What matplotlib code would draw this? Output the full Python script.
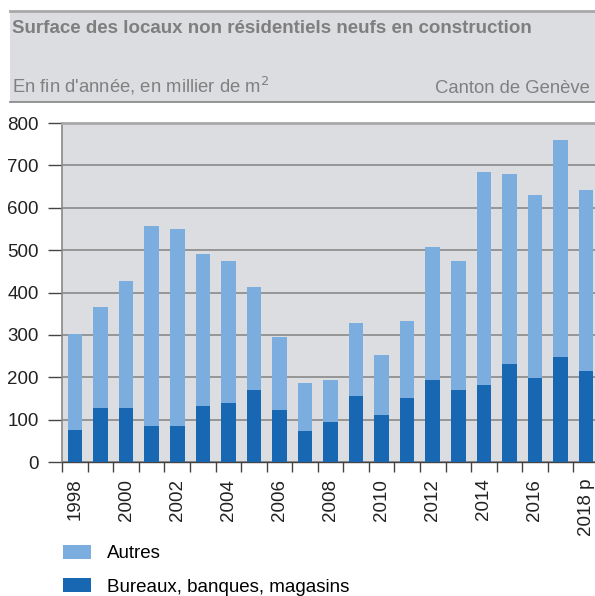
import numpy as np
import matplotlib.pyplot as plt
from matplotlib.patches import Rectangle
from matplotlib.lines import Line2D

plt.rcParams['font.family'] = ['Liberation Sans', 'DejaVu Sans']

# Data (thousand m2, end of year)
years = list(range(1998, 2019))
year_labels = ['1998', '2000', '2002', '2004', '2006', '2008',
               '2010', '2012', '2014', '2016', '2018 p']
bureaux = [75, 128, 128, 85, 85, 133, 139, 171, 123, 73, 95,
           155, 112, 150, 193, 171, 182, 231, 199, 247, 214]
total = [302, 366, 426, 556, 550, 490, 474, 414, 296, 187, 193,
         329, 252, 333, 507, 474, 685, 680, 630, 760, 641]
autres = [t - b for t, b in zip(total, bureaux)]

c_dark = '#1767b3'
c_light = '#7badde'
bg = '#dcdde0'

fig = plt.figure(figsize=(5.95, 5.96), dpi=100)

# header band
fig.patches.append(Rectangle((0.0168, 0.8294), 1.0, 0.1527, transform=fig.transFigure,
                             facecolor=bg, edgecolor='none', zorder=0))
fig.add_artist(Line2D([0.0168, 1.0], [0.982, 0.982], transform=fig.transFigure,
                      color='#a8a8a8', lw=2))
fig.add_artist(Line2D([0.0168, 1.0], [0.8294, 0.8294], transform=fig.transFigure,
                      color='#8c8c8c', lw=1.3))
fig.text(0.0202, 0.9446, 'Surface des locaux non résidentiels neufs en construction',
         fontsize=13.5, fontweight='bold', color='#7f7f7f', va='baseline', ha='left')
fig.text(0.0202, 0.8445, "En fin d'année, en millier de m$^2$",
         fontsize=13.3, color='#808080', va='baseline', ha='left')
fig.text(0.9915, 0.8445, 'Canton de Genève',
         fontsize=13.3, color='#808080', va='baseline', ha='right')

ax = fig.add_axes([0.1047, 0.2248, 0.8953, 0.5688])
ax.set_facecolor(bg)
x = np.arange(len(years))
b1 = ax.bar(x, bureaux, width=0.57, color=c_dark, label='Bureaux, banques, magasins', zorder=3)
b2 = ax.bar(x, autres, width=0.57, bottom=bureaux, color=c_light, label='Autres', zorder=3)

ax.set_xlim(-0.5, 20.35)
ax.set_ylim(0, 800)
ax.set_yticks(range(0, 801, 100))
ax.grid(axis='y', color='#8a8a8a', lw=1.2, zorder=1)
ax.set_axisbelow(True)

ax.set_xticks(x[::2])
ax.set_xticklabels(year_labels, rotation=90)
ax.set_xticks(np.arange(-0.5, 20.5, 1), minor=True)
ax.tick_params(axis='x', which='major', length=0, pad=12, labelsize=13.5, colors='#222222')
ax.tick_params(axis='x', which='minor', length=7, width=1, color='#444444')
ax.tick_params(axis='y', length=10, width=1, color='#444444', pad=7, labelsize=13.5,
               labelcolor='#222222')

ax.spines['right'].set_visible(False)
ax.spines['top'].set_color('#a8a8a8')
ax.spines['top'].set_linewidth(2)
ax.spines['left'].set_color('#888888')
ax.spines['left'].set_linewidth(1.2)
ax.spines['bottom'].set_color('#444444')
ax.spines['bottom'].set_linewidth(1)

fig.legend(handles=[b2, b1], loc='upper left', bbox_to_anchor=(0.1064, 0.0855),
           frameon=False, fontsize=13.5, handlelength=1.46, handleheight=0.75,
           handletextpad=0.85, labelspacing=0.85, borderpad=0, borderaxespad=0)

fig.savefig('out.png', dpi=100)
